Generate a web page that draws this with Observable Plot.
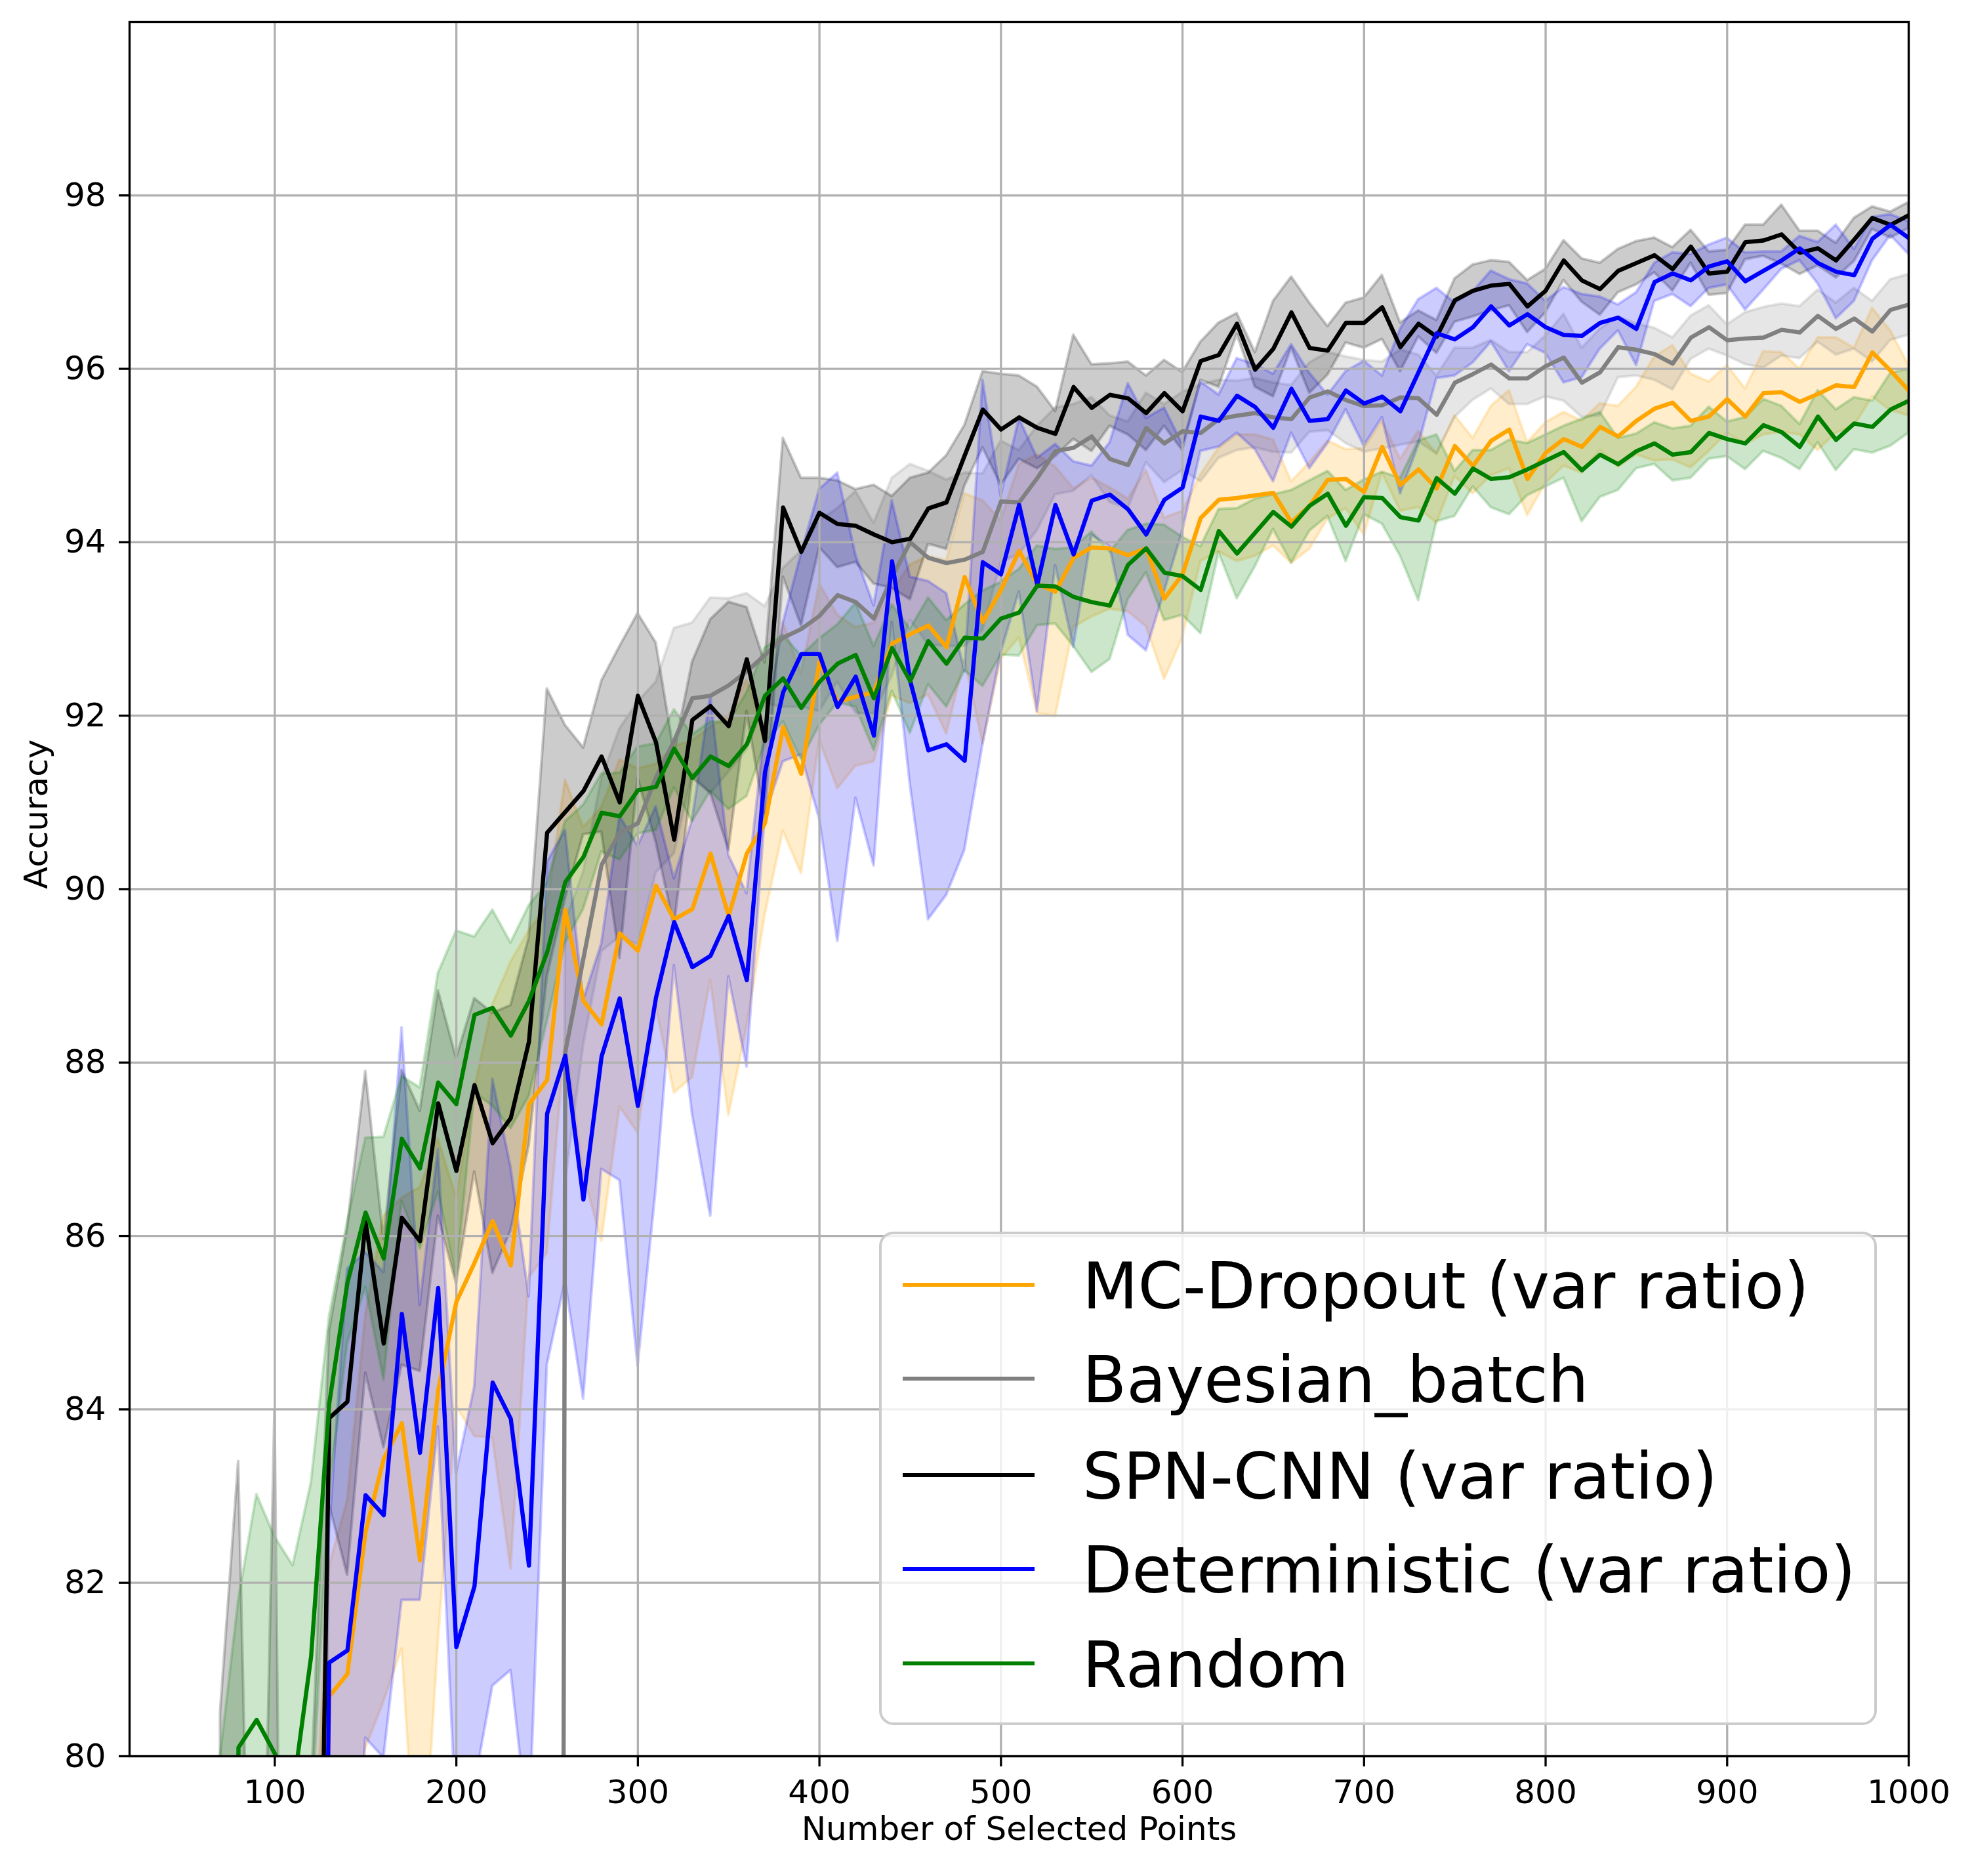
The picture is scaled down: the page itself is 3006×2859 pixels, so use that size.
<!DOCTYPE html>
<html>
<head>
<meta charset="utf-8">
<script src="https://cdn.jsdelivr.net/npm/d3@7"></script>
<script src="https://cdn.jsdelivr.net/npm/@observablehq/plot@0.6"></script>
<style>
  body { margin: 0; background: white; }
  #wrap { position: relative; width: 3006px; height: 2859px; background: white; font-family: "DejaVu Sans", sans-serif; }
  #legend { position: absolute; left: 1340px; top: 1877px; width: 1521px; height: 752px; box-sizing: border-box;
            border: 4px solid #cccccc; border-radius: 22px; background: rgba(255,255,255,0.8); }
  .lg-line { position: absolute; left: 32px; width: 201px; height: 6px; }
  .lg-text { position: absolute; left: 306px; font-size: 98px; line-height: 98px; white-space: nowrap; color: black; }
</style>
</head>
<body>
<div id="wrap"></div>
<script>
const steps = [70, 80, 90, 100, 110, 120, 130, 140, 150, 160,
  170, 180, 190, 200, 210, 220, 230, 240, 250, 260,
  270, 280, 290, 300, 310, 320, 330, 340, 350, 360,
  370, 380, 390, 400, 410, 420, 430, 440, 450, 460,
  470, 480, 490, 500, 510, 520, 530, 540, 550, 560,
  570, 580, 590, 600, 610, 620, 630, 640, 650, 660,
  670, 680, 690, 700, 710, 720, 730, 740, 750, 760,
  770, 780, 790, 800, 810, 820, 830, 840, 850, 860,
  870, 880, 890, 900, 910, 920, 930, 940, 950, 960,
  970, 980, 990, 1000];

const xTicks = [100, 200, 300, 400, 500, 600, 700, 800, 900, 1000];
const yTicks = [80, 82, 84, 86, 88, 90, 92, 94, 96, 98];

const seriesNames = ["MC-Dropout (var ratio)", "Bayesian_batch", "SPN-CNN (var ratio)", "Deterministic (var ratio)", "Random"];
const seriesColors = ["#ffa500", "#808080", "#000000", "#0000ff", "#008000"];

const mcMean = [null, null, null, null, null, 70, 80.69, 80.95, 82.59, 83.43,
  83.84, 82.26, 84.22, 85.24, 85.69, 86.17, 85.66, 87.52, 87.8, 89.76,
  88.71, 88.44, 89.49, 89.29, 90.04, 89.65, 89.77, 90.41, 89.69, 90.41,
  90.76, 91.87, 91.33, 92.62, 92.16, 92.22, 92.27, 92.83, 92.94, 93.04,
  92.79, 93.6, 93.08, 93.45, 93.9, 93.52, 93.43, 93.82, 93.94, 93.93,
  93.85, 93.93, 93.35, 93.63, 94.28, 94.49, 94.51, 94.54, 94.57, 94.23,
  94.42, 94.72, 94.73, 94.58, 95.1, 94.66, 94.84, 94.62, 95.11, 94.88,
  95.17, 95.3, 94.73, 95.03, 95.19, 95.1, 95.33, 95.22, 95.4, 95.54,
  95.61, 95.4, 95.45, 95.65, 95.45, 95.72, 95.73, 95.62, 95.71, 95.81,
  95.79, 96.19, 95.98, 95.75];
const mcStd = [null, null, null, null, null, 8, 1.5, 2.0, 2.5, 2.8,
  2.6, 4.3, 2.9, 1.2, 2.0, 2.5, 3.5, 2.0, 2.0, 1.5,
  2.0, 2.5, 2.0, 2.1, 1.4, 2.0, 1.94, 1.46, 2.3, 2.0,
  1.06, 1.2, 1.15, 0.9, 1.0, 0.8, 0.8, 0.6, 0.8, 0.8,
  1.0, 0.96, 1.4, 0.8, 1.0, 1.49, 1.44, 0.8, 0.8, 0.7,
  0.65, 0.9, 0.93, 0.73, 0.5, 0.6, 0.73, 0.7, 0.61, 0.47,
  0.5, 0.45, 0.34, 0.5, 0.3, 0.3, 0.44, 0.4, 0.35, 0.32,
  0.4, 0.45, 0.42, 0.35, 0.31, 0.3, 0.27, 0.35, 0.39, 0.6,
  0.66, 0.54, 0.4, 0.39, 0.32, 0.48, 0.46, 0.38, 0.65, 0.55,
  0.45, 0.51, 0.46, 0.29];

const bayesMean = [null, null, null, null, null, null, null, null, null, null,
  null, null, null, null, null, null, null, null, 0, 88.12,
  89.2, 90.28, 90.65, 90.76, 91.29, 91.71, 92.2, 92.23, 92.35, 92.51,
  92.7, 92.9, 93.0, 93.15, 93.39, 93.31, 93.12, 93.6, 94.0, 93.82,
  93.76, 93.8, 93.89, 94.47, 94.46, 94.74, 95.05, 95.09, 95.22, 94.96,
  94.89, 95.32, 95.14, 95.28, 95.26, 95.42, 95.46, 95.49, 95.44, 95.42,
  95.67, 95.74, 95.64, 95.57, 95.58, 95.67, 95.66, 95.47, 95.84, 95.94,
  96.05, 95.89, 95.89, 96.03, 96.13, 95.84, 95.96, 96.25, 96.22, 96.17,
  96.06, 96.36, 96.48, 96.33, 96.35, 96.36, 96.45, 96.42, 96.61, 96.46,
  96.58, 96.43, 96.68, 96.74];
const bayesStd = [null, null, null, null, null, null, null, null, null, null,
  null, null, null, null, null, null, null, null, 0, 1.5,
  1.0, 1.0, 1.2, 1.4, 1.1, 1.3, 0.87, 1.13, 1.0, 0.9,
  0.56, 0.8, 0.9, 1.1, 1.0, 1.28, 1.1, 1.14, 0.9, 1.0,
  0.96, 1.0, 0.9, 0.7, 0.6, 0.6, 0.5, 0.5, 0.45, 0.5,
  0.5, 0.4, 0.45, 0.45, 0.56, 0.45, 0.4, 0.4, 0.4, 0.39,
  0.4, 0.45, 0.5, 0.53, 0.5, 0.55, 0.5, 0.45, 0.4, 0.3,
  0.28, 0.3, 0.3, 0.35, 0.5, 0.4, 0.5, 0.35, 0.3, 0.3,
  0.3, 0.25, 0.25, 0.18, 0.3, 0.35, 0.3, 0.3, 0.3, 0.3,
  0.35, 0.35, 0.35, 0.35];

const spnMean = [45, 50, 45, 52, 40, 71, 83.9, 84.09, 86.16, 84.76,
  86.21, 85.94, 87.53, 86.75, 87.74, 87.07, 87.36, 88.24, 90.65, 90.89,
  91.13, 91.53, 91.0, 92.23, 91.69, 90.57, 91.95, 92.11, 91.88, 92.65,
  91.71, 94.4, 93.89, 94.34, 94.21, 94.19, 94.09, 94.0, 94.04, 94.39,
  94.46, 95.0, 95.53, 95.3, 95.44, 95.32, 95.25, 95.79, 95.55, 95.7,
  95.66, 95.49, 95.72, 95.51, 96.09, 96.16, 96.52, 95.99, 96.23, 96.65,
  96.24, 96.21, 96.53, 96.53, 96.71, 96.25, 96.52, 96.37, 96.79, 96.9,
  96.96, 96.98, 96.72, 96.9, 97.25, 97.02, 96.92, 97.13, 97.22, 97.31,
  97.15, 97.41, 97.1, 97.12, 97.46, 97.48, 97.55, 97.34, 97.39, 97.25,
  97.49, 97.74, 97.66, 97.77];
const spnStd = [35.5, 33.4, 29, 32, 24, 8.5, 1.0, 2.0, 1.74, 1.2,
  1.7, 1.5, 1.3, 1.3, 1.0, 1.5, 1.3, 1.2, 1.66, 1.0,
  0.5, 0.87, 1.8, 0.95, 1.15, 1.0, 0.67, 1.0, 1.43, 0.6,
  0.9, 0.8, 0.85, 0.4, 0.5, 0.42, 0.57, 0.53, 0.7, 0.41,
  0.54, 0.35, 0.44, 0.64, 0.48, 0.47, 0.26, 0.6, 0.5, 0.36,
  0.42, 0.43, 0.38, 0.45, 0.22, 0.37, 0.12, 0.2, 0.55, 0.41,
  0.52, 0.28, 0.23, 0.29, 0.37, 0.28, 0.15, 0.19, 0.25, 0.3,
  0.29, 0.25, 0.3, 0.25, 0.23, 0.25, 0.3, 0.25, 0.25, 0.2,
  0.25, 0.19, 0.25, 0.25, 0.2, 0.18, 0.34, 0.25, 0.2, 0.2,
  0.25, 0.13, 0.15, 0.15];

const detMean = [null, null, null, null, null, 63, 81.08, 81.22, 83.01, 82.78,
  85.1, 83.5, 85.4, 81.26, 81.96, 84.31, 83.89, 82.2, 87.41, 88.08,
  86.42, 88.07, 88.74, 87.5, 88.75, 89.62, 89.1, 89.23, 89.69, 88.95,
  91.35, 92.27, 92.71, 92.71, 92.1, 92.45, 91.77, 93.78, 92.4, 91.6,
  91.67, 91.48, 93.77, 93.63, 94.43, 93.51, 94.43, 93.86, 94.48, 94.55,
  94.38, 94.09, 94.49, 94.63, 95.45, 95.4, 95.69, 95.56, 95.32, 95.77,
  95.4, 95.42, 95.75, 95.6, 95.68, 95.51, 95.96, 96.41, 96.34, 96.48,
  96.72, 96.5, 96.63, 96.48, 96.39, 96.38, 96.53, 96.59, 96.46, 97.0,
  97.1, 97.02, 97.18, 97.24, 97.01, 97.13, 97.25, 97.39, 97.22, 97.12,
  97.08, 97.5, 97.66, 97.51];
const detStd = [null, null, null, null, null, 10, 1.5, 4.4, 2.8, 2.8,
  3.3, 1.7, 1.6, 2.0, 2.3, 3.5, 2.9, 3.1, 2.9, 2.6,
  2.3, 1.3, 2.1, 3.0, 2.2, 0.5, 1.7, 3.0, 0.7, 1.0,
  0.5, 0.8, 1.16, 1.9, 2.7, 1.4, 1.5, 0.7, 1.2, 1.95,
  1.74, 1.03, 2.1, 0.9, 1.0, 1.46, 0.7, 1.07, 0.4, 0.6,
  1.45, 1.34, 1.06, 0.5, 0.4, 0.3, 0.43, 0.49, 0.62, 0.51,
  0.55, 0.28, 0.22, 0.49, 0.24, 0.95, 0.84, 0.52, 0.42, 0.41,
  0.41, 0.53, 0.35, 0.3, 0.55, 0.48, 0.3, 0.15, 0.42, 0.22,
  0.24, 0.3, 0.25, 0.27, 0.33, 0.22, 0.1, 0.14, 0.24, 0.54,
  0.3, 0.25, 0.12, 0.19];

const randMean = [62, 80.1, 80.42, 80.03, 79.6, 81.15, 84.07, 85.46, 86.27, 85.74,
  87.12, 86.78, 87.77, 87.52, 88.55, 88.63, 88.31, 88.71, 89.27, 90.08,
  90.37, 90.88, 90.84, 91.14, 91.18, 91.62, 91.28, 91.53, 91.42, 91.67,
  92.23, 92.43, 92.09, 92.39, 92.6, 92.7, 92.2, 92.78, 92.4, 92.86,
  92.6, 92.9, 92.89, 93.12, 93.19, 93.5, 93.49, 93.37, 93.31, 93.27,
  93.74, 93.93, 93.65, 93.61, 93.45, 94.13, 93.87, 94.11, 94.35, 94.18,
  94.42, 94.56, 94.19, 94.52, 94.51, 94.29, 94.25, 94.74, 94.56, 94.85,
  94.73, 94.75, 94.84, 94.94, 95.04, 94.83, 95.01, 94.9, 95.05, 95.14,
  95.01, 95.04, 95.26, 95.19, 95.14, 95.35, 95.27, 95.1, 95.45, 95.18,
  95.37, 95.33, 95.53, 95.63];
const randStd = [18, 1.7, 2.6, 2.5, 2.6, 2.0, 1.0, 0.7, 0.86, 1.4,
  0.72, 0.93, 1.26, 2.0, 0.9, 1.13, 1.07, 1.1, 0.8, 0.7,
  0.6, 0.45, 0.5, 0.5, 0.5, 0.45, 0.5, 0.4, 0.5, 0.6,
  0.55, 0.5, 0.6, 0.5, 0.45, 0.6, 0.6, 0.5, 0.6, 0.5,
  0.5, 0.38, 0.55, 0.42, 0.5, 0.46, 0.43, 0.57, 0.81, 0.62,
  0.4, 0.28, 0.55, 0.45, 0.5, 0.25, 0.52, 0.39, 0.2, 0.42,
  0.29, 0.26, 0.41, 0.2, 0.3, 0.45, 0.92, 0.5, 0.26, 0.21,
  0.33, 0.43, 0.3, 0.3, 0.3, 0.59, 0.49, 0.3, 0.2, 0.24,
  0.3, 0.3, 0.3, 0.2, 0.3, 0.3, 0.3, 0.26, 0.3, 0.35,
  0.3, 0.3, 0.42, 0.37];

const means = [mcMean, bayesMean, spnMean, detMean, randMean];
const stds = [mcStd, bayesStd, spnStd, detStd, randStd];

const tables = means.map((m, k) =>
  steps.map((s, i) => ({step: s, mean: m[i], lo: m[i] == null ? null : m[i] - stds[k][i], hi: m[i] == null ? null : m[i] + stds[k][i]}))
       .filter(d => d.mean != null));

const LW = 6.4, GW = 3.3;
const bandMarks = tables.map((t, k) => Plot.areaY(t, {
  x: "step", y1: "lo", y2: "hi", fill: seriesColors[k], fillOpacity: 0.2,
  stroke: seriesColors[k], strokeOpacity: 0.2, strokeWidth: 4.17, clip: true, curve: "linear"
}));
const lineMarks = tables.map((t, k) => Plot.line(t, {
  x: "step", y: "mean", stroke: seriesColors[k], strokeWidth: LW, clip: true, curve: "linear"
}));

const chart = Plot.plot({
  width: 3006, height: 2859,
  marginLeft: 197, marginRight: 97, marginTop: 33, marginBottom: 183,
  style: {fontFamily: "DejaVu Sans", fontSize: "50px", color: "black", background: "white"},
  x: {domain: [20, 1000]},
  y: {domain: [80, 100]},
  marks: [
    ...bandMarks,
    Plot.gridX(xTicks, {stroke: "#b0b0b0", strokeOpacity: 1, strokeWidth: GW}),
    Plot.gridY(yTicks, {stroke: "#b0b0b0", strokeOpacity: 1, strokeWidth: GW}),
    ...lineMarks,
    Plot.axisX({ticks: xTicks, tickSize: 16, tickPadding: 20, strokeWidth: GW, fontSize: 50, label: null, tickFormat: d => String(d)}),
    Plot.axisY({ticks: yTicks, tickSize: 16, tickPadding: 20, strokeWidth: GW, fontSize: 50, label: null, tickFormat: d => String(d)}),
    Plot.frame({stroke: "black", strokeWidth: GW}),
    Plot.text(["Number of Selected Points"], {frameAnchor: "bottom", dy: 127, fontSize: 50, fill: "black"}),
    Plot.text(["Accuracy"], {frameAnchor: "left", dx: -142, rotate: -90, fontSize: 50, fill: "black"})
  ]
});

const wrap = document.getElementById("wrap");
wrap.appendChild(chart);

const legend = document.createElement("div");
legend.id = "legend";
const lineY = [1958, 2101, 2248, 2391, 2535];
seriesNames.forEach((name, k) => {
  const ln = document.createElement("div");
  ln.className = "lg-line";
  ln.style.top = (lineY[k] - 1877 - 4 - 3) + "px";
  ln.style.background = seriesColors[k];
  legend.appendChild(ln);
  const tx = document.createElement("div");
  tx.className = "lg-text";
  tx.style.top = (lineY[k] - 1877 - 4 - 47) + "px";
  tx.textContent = name;
  legend.appendChild(tx);
});
wrap.appendChild(legend);
</script>
</body>
</html>
